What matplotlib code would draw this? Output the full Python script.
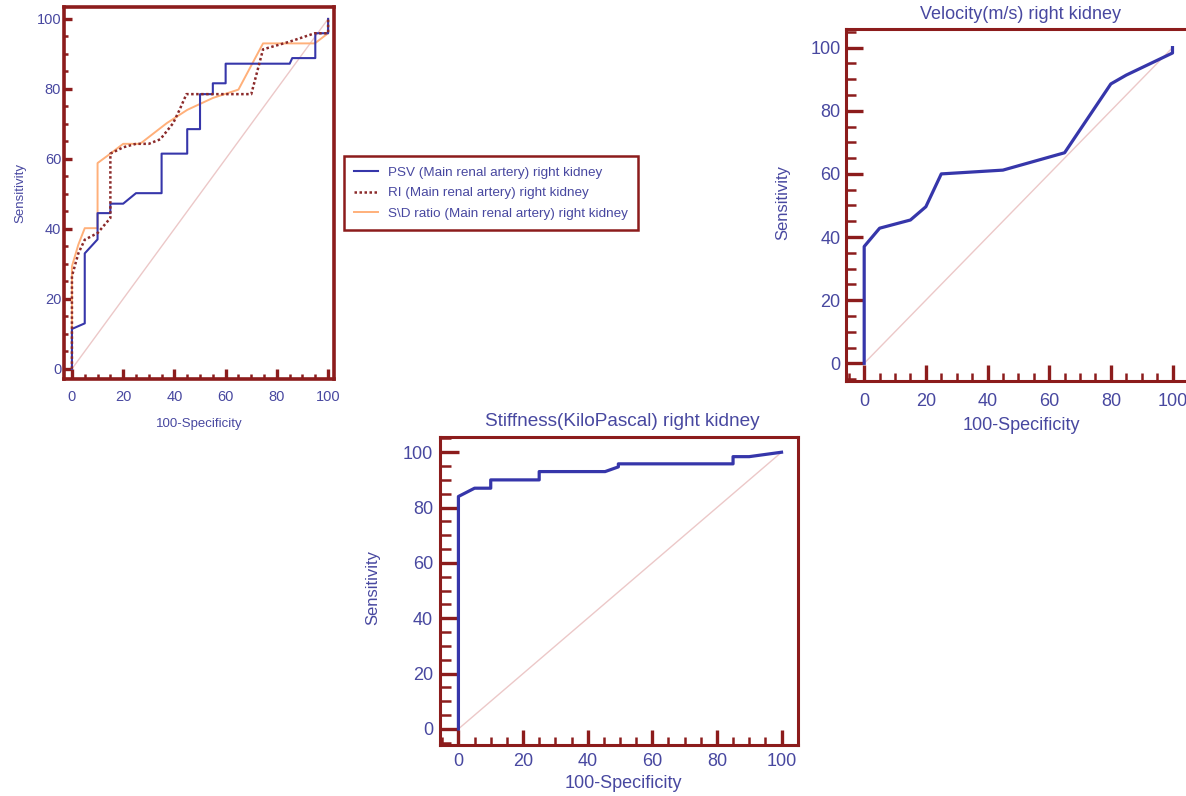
import numpy as np
import matplotlib
matplotlib.use("Agg")
from matplotlib import pyplot as plt
from matplotlib.ticker import MultipleLocator

plt.rcParams['font.family'] = ['Liberation Sans', 'DejaVu Sans']

# ROC points: (100-specificity, sensitivity)
psv_x = [0, 0, 5, 5, 10, 10, 15, 15, 20, 25, 35, 35, 45, 45, 50, 50, 55, 55, 60, 60, 85, 86, 95, 95, 100, 100]
psv_y = [0, 11.4, 13, 33, 37, 44.5, 44.5, 47.2, 47.2, 50.2, 50.2, 61.5, 61.5, 68.5, 68.5, 78.5, 78.5, 81.6, 81.6, 87.2, 87.2, 88.8, 88.8, 95.9, 95.9, 100]

ri_x = [0, 0, 2.5, 5, 10, 15, 15, 20, 25, 30, 34.5, 39.5, 42, 44.7, 70, 74.6, 85, 94.8, 100, 100]
ri_y = [0, 26.5, 33, 36.9, 38.8, 43.1, 61.5, 63.3, 64.3, 64.3, 65.6, 70.2, 74, 78.5, 78.5, 91.3, 93.5, 95.9, 95.9, 100]

sd_x = [0, 0, 2.5, 5, 10, 10, 15, 20, 26.6, 37, 45, 55, 65, 74.6, 94.8, 100, 100]
sd_y = [0, 29.3, 35.5, 40.2, 40.2, 58.8, 61.5, 64.3, 64.3, 70.2, 74, 77.4, 79.8, 93, 93, 95.9, 100]

vel_x = [0, 0, 5, 15, 20, 25, 45, 65, 80, 85, 100, 100]
vel_y = [0, 37, 42.8, 45.4, 49.6, 60, 61.2, 66.7, 88.5, 91.3, 98.3, 100]

stf_x = [0, 0, 5, 10, 10, 25, 25, 45.4, 49.5, 49.5, 85, 85, 90, 100]
stf_y = [0, 84, 87, 87, 90, 90, 93, 93, 94.7, 95.8, 95.8, 98.4, 98.4, 100]

top_labels = ["PSV (Main renal artery) right kidney",
              "RI (Main renal artery) right kidney",
              "S\\D ratio (Main renal artery) right kidney"]

W, H = 1186, 796
frame_c = '#8c1c1c'
text_c = '#4848a0'
blue = '#3636aa'
orange = '#ffb07a'
dotred = '#8b2a2a'
diag_c = '#ecc8c8'


def px_axes(fig, left, top, right, bottom):
    return fig.add_axes([left / W, 1 - bottom / H, (right - left) / W, (bottom - top) / H])


def style(ax, xlim, ylim, fs, xlen, ylen, xpad, ypad, sw):
    # xlen / ylen: (major, minor) tick lengths in points
    ax.set_xlim(*xlim)
    ax.set_ylim(*ylim)
    ax.xaxis.set_major_locator(MultipleLocator(20))
    ax.yaxis.set_major_locator(MultipleLocator(20))
    ax.xaxis.set_minor_locator(MultipleLocator(5))
    ax.yaxis.set_minor_locator(MultipleLocator(5))
    for s in ax.spines.values():
        s.set_color(frame_c)
        s.set_linewidth(sw)
    ax.tick_params(which='both', direction='in', color=frame_c, labelcolor=text_c,
                   labelsize=fs, top=False, right=False)
    ax.tick_params(which='major', width=2.4)
    ax.tick_params(which='minor', width=1.8)
    ax.tick_params(axis='x', which='major', length=xlen[0], pad=xpad)
    ax.tick_params(axis='x', which='minor', length=xlen[1], pad=xpad)
    ax.tick_params(axis='y', which='major', length=ylen[0], pad=ypad)
    ax.tick_params(axis='y', which='minor', length=ylen[1], pad=ypad)
    ax.plot([0, 100], [0, 100], color=diag_c, lw=1.0, zorder=1)


fig = plt.figure(figsize=(W / 100, H / 100), dpi=100)

# top left: three main renal artery curves
ax1 = px_axes(fig, 64, 7, 334, 379)
style(ax1, (-3.1, 102.3), (-2.9, 103.4), 10.5, (7.2, 3.6), (5.8, 3), 8, 2, 2.6)
ax1.plot(psv_x, psv_y, color=blue, lw=1.5, label=top_labels[0], zorder=3)
ax1.plot(ri_x, ri_y, color=dotred, lw=1.8, ls=(0, (1, 1)), label=top_labels[1], zorder=4)
ax1.plot(sd_x, sd_y, color=orange, lw=1.4, label=top_labels[2], zorder=2)
ax1.set_xlabel("100-Specificity", color=text_c, fontsize=9.5)
ax1.set_ylabel("Sensitivity", color=text_c, fontsize=9.5)
ax1.xaxis.set_label_coords(0.5, -0.105)
ax1.yaxis.set_label_coords(-0.141, 0.5)

leg = fig.legend(loc='upper left', bbox_to_anchor=(344 / W, 1 - 156 / H), borderaxespad=0,
                 fontsize=9.7, labelcolor=text_c, fancybox=False, framealpha=1,
                 edgecolor=frame_c, handlelength=1.8, handletextpad=0.7,
                 labelspacing=0.62, borderpad=0.75)
leg.get_frame().set_linewidth(1.8)

# top right: velocity
ax2 = px_axes(fig, 846, 29, 1191, 381)
style(ax2, (-5.9, 106), (-5.6, 105.9), 13, (11.5, 5.8), (12.2, 7), 9, 4, 2.2)
ax2.plot(vel_x, vel_y, color=blue, lw=2.3, zorder=3)
ax2.set_title("Velocity(m/s) right kidney", color=text_c, fontsize=13, x=0.507, y=1.04,
              va='center', pad=0)
ax2.set_xlabel("100-Specificity", color=text_c, fontsize=13)
ax2.set_ylabel("Sensitivity", color=text_c, fontsize=12)
ax2.xaxis.set_label_coords(0.507, -0.102)
ax2.yaxis.set_label_coords(-0.162, 0.506)

# bottom: stiffness
ax3 = px_axes(fig, 440, 437, 798, 745)
style(ax3, (-5.7, 105.1), (-5.8, 105.5), 13, (10.8, 5.8), (13.7, 8), 6, 5, 2.2)
ax3.plot(stf_x, stf_y, color=blue, lw=2.3, zorder=3)
ax3.set_title("Stiffness(KiloPascal) right kidney", color=text_c, fontsize=13.7, x=0.508, y=1.049,
              va='center', pad=0)
ax3.set_xlabel("100-Specificity", color=text_c, fontsize=13)
ax3.set_ylabel("Sensitivity", color=text_c, fontsize=12)
ax3.xaxis.set_label_coords(0.511, -0.097)
ax3.yaxis.set_label_coords(-0.166, 0.51)

fig.savefig("out.png", dpi=100)
